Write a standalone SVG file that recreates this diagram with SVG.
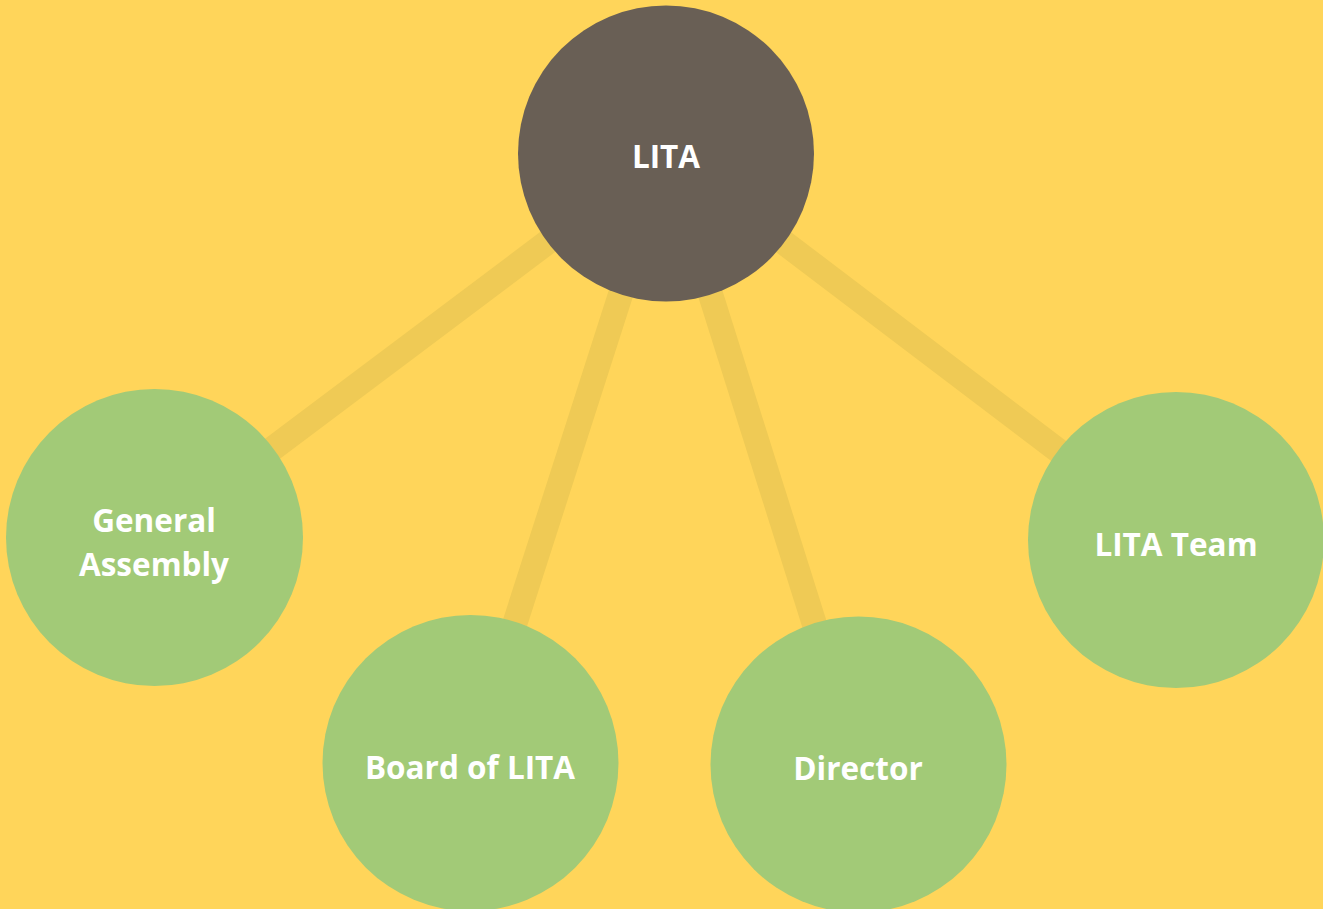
<svg xmlns="http://www.w3.org/2000/svg" width="1323" height="909" viewBox="0 0 1323 909">
<style>
.bg{fill:#FFD55A}
.link{stroke:#EFCA55;stroke-width:25;stroke-linecap:butt;fill:none}
.root{fill:#695F55}
.leaf{fill:#A2CA77}
.lbl{fill:#FFFFFF;font-family:"Open Sans","Liberation Sans",sans-serif;font-weight:700;font-size:31.5px;text-anchor:middle}
</style>
<rect class="bg" x="0" y="0" width="1323" height="909"/>
<g id="connectors">
<line class="link" x1="666" y1="153" x2="154.5" y2="537.5"/>
<line class="link" x1="666" y1="153" x2="470" y2="763"/>
<line class="link" x1="666" y1="153" x2="858.5" y2="764"/>
<line class="link" x1="666" y1="153" x2="1176" y2="540"/>
</g>
<g id="node-lita">
<circle class="root" cx="666" cy="153.5" r="148"/>
<text class="lbl" x="666" y="168">LITA</text>
</g>
<g id="node-general-assembly">
<circle class="leaf" cx="154.5" cy="537.5" r="148.5"/>
<text class="lbl" x="154" y="532">General</text>
<text class="lbl" x="154" y="576">Assembly</text>
</g>
<g id="node-board">
<circle class="leaf" cx="470.5" cy="763" r="148"/>
<text class="lbl" x="470" y="779">Board of LITA</text>
</g>
<g id="node-director">
<circle class="leaf" cx="858.5" cy="764.5" r="148"/>
<text class="lbl" x="858" y="780">Director</text>
</g>
<g id="node-lita-team">
<circle class="leaf" cx="1176" cy="540" r="148"/>
<text class="lbl" x="1176" y="556">LITA Team</text>
</g>
</svg>
